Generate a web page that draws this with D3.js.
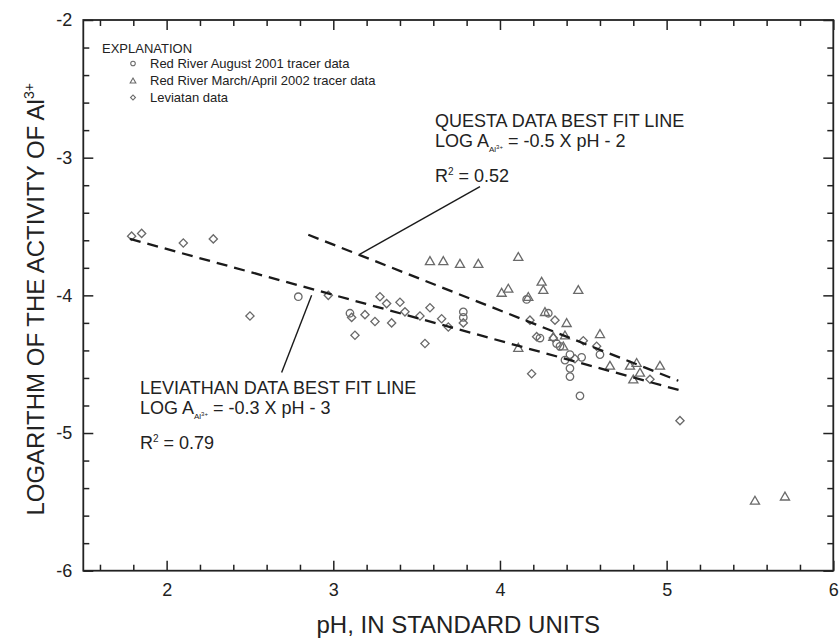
<!DOCTYPE html>
<html>
<head>
<meta charset="utf-8">
<script src="https://cdn.jsdelivr.net/npm/d3@7"></script>
<style>
  body { margin: 0; background: #fff; }
  text { font-family: "Liberation Sans", Arial, sans-serif; fill: #222; }
</style>
</head>
<body>
<script>
var width = 840,
  height = 643;

// Red River August 2001 tracer data [pH, log activity]
var aug2001 = [
  [2.79, -4.01], [3.10, -4.13], [3.78, -4.12], [3.78, -4.16], [4.16, -4.03],
  [4.24, -4.31], [4.29, -4.13], [4.34, -4.35], [4.36, -4.37], [4.42, -4.43],
  [4.39, -4.47], [4.49, -4.45], [4.42, -4.53], [4.42, -4.59], [4.48, -4.73],
  [4.60, -4.43]
];
// Red River March/April 2002 tracer data
var marApr2002 = [
  [3.58, -3.75], [3.66, -3.75], [3.76, -3.77], [3.87, -3.77], [4.11, -3.72],
  [4.01, -3.98], [4.05, -3.95], [4.25, -3.90], [4.26, -3.96], [4.17, -4.01],
  [4.47, -3.96], [4.27, -4.12], [4.40, -4.20], [4.60, -4.28], [4.39, -4.29],
  [4.32, -4.30], [4.38, -4.37], [4.11, -4.38], [4.66, -4.51], [4.78, -4.51],
  [4.82, -4.49], [4.80, -4.61], [4.96, -4.51], [4.84, -4.56],
  [5.53, -5.49], [5.71, -5.46]
];
// Leviatan data
var leviatan = [
  [1.79, -3.57], [1.85, -3.55], [2.10, -3.62], [2.28, -3.59], [2.50, -4.15],
  [2.97, -4.00], [3.11, -4.16], [3.13, -4.29], [3.19, -4.14], [3.25, -4.19],
  [3.28, -4.01], [3.32, -4.06], [3.35, -4.20], [3.40, -4.05], [3.43, -4.12],
  [3.52, -4.15], [3.55, -4.35], [3.58, -4.09], [3.65, -4.17], [3.69, -4.23],
  [3.78, -4.20], [4.18, -4.18], [4.19, -4.57], [4.22, -4.30], [4.32, -4.31],
  [4.33, -4.18], [4.45, -4.46], [4.50, -4.33], [4.58, -4.37], [4.90, -4.61],
  [5.08, -4.91]
];

// best fit lines (end points) and leader lines
var questaFit = [[2.85, -3.56], [5.07, -4.62]];
var leviathanFit = [[1.78, -3.59], [5.08, -4.69]];
var questaLeader = [[3.88, -3.21], [3.16, -3.70]];
var leviathanLeader = [[2.87, -4.00], [2.69, -4.56]];

var xTicks = [2, 3, 4, 5, 6];
var yTicks = [-2, -3, -4, -5, -6];
var legendLabels = [
  "Red River August 2001 tracer data",
  "Red River March/April 2002 tracer data",
  "Leviatan data"
];

var margin = {left: 83.3, right: 6.7, top: 20, bottom: 72.3};

var svg = d3.select("body").append("svg")
  .attr("width", width)
  .attr("height", height);

var x = d3.scaleLinear().domain([1.5, 6]).range([margin.left, width - margin.right]);
var y = d3.scaleLinear().domain([-6, -2]).range([height - margin.bottom, margin.top]);

var xMinor = d3.range(1.6, 6, 0.2).filter(function(v){ return Math.abs(v - Math.round(v)) > 0.01; });
var yMinor = d3.range(-5.8, -2, 0.2).filter(function(v){ return Math.abs(v - Math.round(v)) > 0.01; });
var plain = function(d){ return String(d); };

function styleAxis(g) {
  g.select(".domain").remove();
  g.selectAll("line").attr("stroke", "#222").attr("stroke-width", 1.5);
}

var x0 = height - margin.bottom, y0 = margin.top;
var xL = margin.left, xR = width - margin.right;

// major + minor ticks on all sides, pointing inward
svg.append("g").attr("transform", "translate(0," + x0 + ")")
  .call(d3.axisBottom(x).tickValues(xTicks).tickSize(-10).tickPadding(13).tickFormat(plain))
  .call(styleAxis)
  .selectAll("text").attr("font-size", 18).attr("fill", "#222");
svg.append("g").attr("transform", "translate(0," + x0 + ")")
  .call(d3.axisBottom(x).tickValues(xMinor).tickSize(-6).tickFormat(""))
  .call(styleAxis);
svg.append("g").attr("transform", "translate(0," + y0 + ")")
  .call(d3.axisTop(x).tickValues(xTicks).tickSize(-10).tickFormat(""))
  .call(styleAxis);
svg.append("g").attr("transform", "translate(0," + y0 + ")")
  .call(d3.axisTop(x).tickValues(xMinor).tickSize(-6).tickFormat(""))
  .call(styleAxis);

svg.append("g").attr("transform", "translate(" + xL + ",0)")
  .call(d3.axisLeft(y).tickValues(yTicks).tickSize(-10).tickPadding(11).tickFormat(plain))
  .call(styleAxis)
  .selectAll("text").attr("font-size", 18).attr("fill", "#222");
svg.append("g").attr("transform", "translate(" + xL + ",0)")
  .call(d3.axisLeft(y).tickValues(yMinor).tickSize(-6).tickFormat(""))
  .call(styleAxis);
svg.append("g").attr("transform", "translate(" + xR + ",0)")
  .call(d3.axisRight(y).tickValues(yTicks).tickSize(-10).tickFormat(""))
  .call(styleAxis);
svg.append("g").attr("transform", "translate(" + xR + ",0)")
  .call(d3.axisRight(y).tickValues(yMinor).tickSize(-6).tickFormat(""))
  .call(styleAxis);

svg.append("rect")
  .attr("x", xL).attr("y", y0)
  .attr("width", xR - xL).attr("height", x0 - y0)
  .attr("fill", "none").attr("stroke", "#222").attr("stroke-width", 1.8);

// axis titles
svg.append("text")
  .attr("x", (xL + xR) / 2).attr("y", 633)
  .attr("text-anchor", "middle").attr("font-size", 24)
  .text("pH, IN STANDARD UNITS");

var yTitle = svg.append("text")
  .attr("transform", "translate(44," + ((y0 + x0) / 2 + 4) + ") rotate(-90)")
  .attr("text-anchor", "middle").attr("font-size", 24);
yTitle.append("tspan").text("LOGARITHM OF THE ACTIVITY OF Al");
yTitle.append("tspan").attr("font-size", 14).attr("dy", -10).text("3+");

// symbols
var circleSym = d3.symbol().type(d3.symbolCircle).size(44);
var triSym = d3.symbol().type(d3.symbolTriangle).size(36);
var diaSym = d3.symbol().type(d3.symbolSquare).size(34);

var pts = svg.append("g")
  .attr("fill", "none").attr("stroke", "#6a6a6a").attr("stroke-width", 1.3);

pts.selectAll(".lev").data(leviatan).enter().append("path")
  .attr("class", "lev")
  .attr("d", diaSym)
  .attr("transform", function(d){ return "translate(" + x(d[0]) + "," + y(d[1]) + ") rotate(45)"; });
pts.selectAll(".aug").data(aug2001).enter().append("path")
  .attr("class", "aug")
  .attr("d", circleSym)
  .attr("transform", function(d){ return "translate(" + x(d[0]) + "," + y(d[1]) + ")"; });
pts.selectAll(".mar").data(marApr2002).enter().append("path")
  .attr("class", "mar")
  .attr("d", triSym)
  .attr("transform", function(d){ return "translate(" + x(d[0]) + "," + (y(d[1]) + 1) + ")"; });

// fit lines
var line = d3.line().x(function(d){ return x(d[0]); }).y(function(d){ return y(d[1]); });
[questaFit, leviathanFit].forEach(function(l) {
  svg.append("path").datum(l).attr("d", line)
    .attr("fill", "none").attr("stroke", "#1a1a1a")
    .attr("stroke-width", 2.3).attr("stroke-dasharray", "11,7");
});
[questaLeader, leviathanLeader].forEach(function(l) {
  svg.append("path").datum(l).attr("d", line)
    .attr("fill", "none").attr("stroke", "#1a1a1a").attr("stroke-width", 1.4);
});

// annotations
function fitLabel(px, py, title, slope, icept, r2) {
  var g = svg.append("g").attr("font-size", 18);
  g.append("text").attr("x", x(px)).attr("y", y(py)).text(title);
  var t = g.append("text").attr("x", x(px)).attr("y", y(py) + 20);
  t.append("tspan").text("LOG A");
  t.append("tspan").attr("font-size", 8).attr("dy", 5).text("Al");
  t.append("tspan").attr("font-size", 6).attr("dy", -3).text("3+");
  t.append("tspan").attr("dy", -2).text(" = " + slope + " X pH - " + icept);
  var r = g.append("text").attr("x", x(px)).attr("y", y(py) + 55);
  r.append("tspan").text("R");
  r.append("tspan").attr("font-size", 10).attr("dy", -7).text("2");
  r.append("tspan").attr("dy", 7).text(" = " + r2);
}
fitLabel(3.61, -2.78, "QUESTA DATA BEST FIT LINE", "-0.5", 2, "0.52");
fitLabel(1.84, -4.72, "LEVIATHAN DATA BEST FIT LINE", "-0.3", 3, "0.79");

// legend
var leg = svg.append("g").attr("font-size", 13);
leg.append("text").attr("x", 102).attr("y", 53).text("EXPLANATION");
var legSyms = [
  d3.symbol().type(d3.symbolCircle).size(16),
  d3.symbol().type(d3.symbolTriangle).size(14),
  d3.symbol().type(d3.symbolSquare).size(12)
];
legendLabels.forEach(function(lab, i) {
  var cy = 63.5 + i * 17;
  leg.append("path").attr("d", legSyms[i]())
    .attr("transform", "translate(133," + (cy + (i === 1 ? 0.8 : 0)) + ")" + (i === 2 ? " rotate(45)" : ""))
    .attr("fill", "none").attr("stroke", "#6a6a6a").attr("stroke-width", 1.1);
  leg.append("text").attr("x", 150).attr("y", cy + 4.5).text(lab);
});
</script>
</body>
</html>
